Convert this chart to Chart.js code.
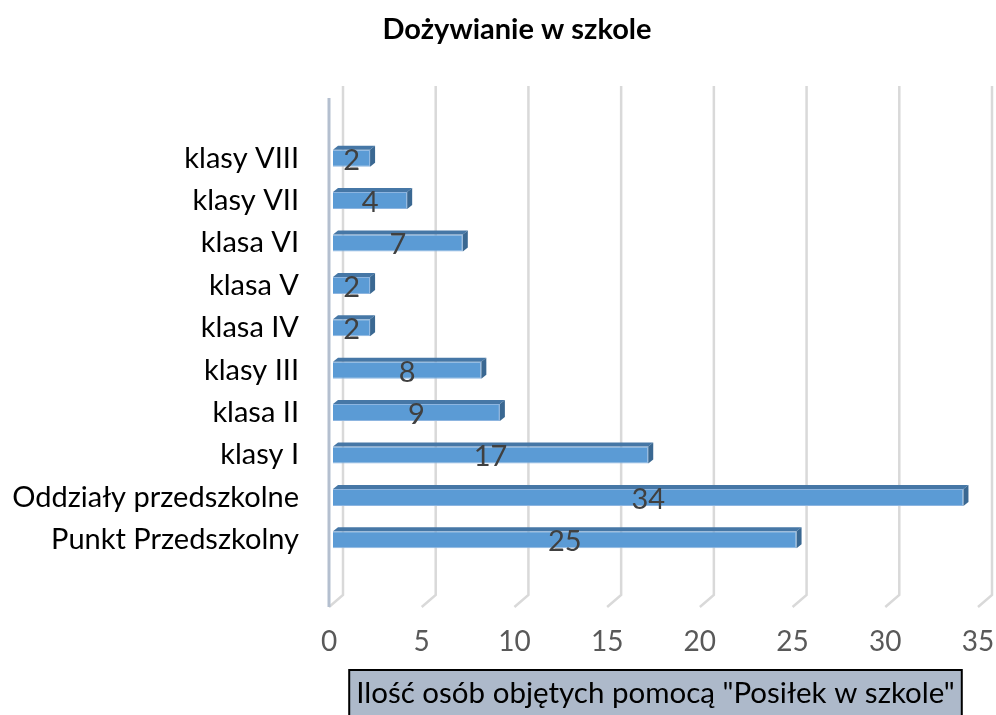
<!DOCTYPE html>
<html lang="pl">
<head>
<meta charset="utf-8">
<title>Dożywianie w szkole</title>
<script src="https://cdn.jsdelivr.net/npm/chart.js@4/dist/chart.umd.min.js"></script>
<style>
  html, body { margin: 0; padding: 0; background: #fff; }
  #wrap { width: 996px; height: 715px; overflow: hidden; }
</style>
</head>
<body>
<div id="wrap"><canvas id="chart" width="996" height="715"></canvas></div>
<script>
// dane wykresu
const categories = ['klasy VIII', 'klasy VII', 'klasa VI', 'klasa V', 'klasa IV', 'klasy III', 'klasa II', 'klasy I', 'Oddziały przedszkolne', 'Punkt Przedszkolny'];
const values = [2, 4, 7, 2, 2, 8, 9, 17, 34, 25];
const xTicks = [0, 5, 10, 15, 20, 25, 30, 35];
const chartTitle = 'Dożywianie w szkole';
const axisTitle = 'Ilość osób objętych pomocą "Posiłek w szkole"';

const FONT = 'Lato, "Open Sans", sans-serif';

// przesunięcie tylnej ściany względem przedniej krawędzi podłogi
const WALL = { backDx: 10, frontDx: -4, topAbove: 51, floorBack: 34, floorFront: 46 };
// głębokość słupka
const BAR_DX = 5, BAR_DY = 4;

// ściany i linie siatki w stylu wykresu 3D
const wallsPlugin = {
    id: 'walls',
    beforeDatasetsDraw(chart) {
        const { ctx, chartArea } = chart;
        const xs = chart.scales.x;
        const top = chartArea.top - WALL.topAbove;
        const backBottom = chartArea.bottom + WALL.floorBack;
        const frontBottom = chartArea.bottom + WALL.floorFront;

        ctx.save();
        ctx.strokeStyle = '#d9d9d9';
        ctx.lineWidth = 2.5;
        xTicks.forEach(v => {
            const px = xs.getPixelForValue(v);
            ctx.beginPath();
            ctx.moveTo(px + WALL.backDx, top);
            ctx.lineTo(px + WALL.backDx, backBottom);
            ctx.lineTo(px + WALL.frontDx, frontBottom);
            ctx.stroke();
        });

        // lewa ściana
        const x0 = xs.getPixelForValue(0) + WALL.frontDx;
        ctx.strokeStyle = '#b4bfcf';
        ctx.lineWidth = 3;
        ctx.beginPath();
        ctx.moveTo(x0, top + (WALL.floorFront - WALL.floorBack));
        ctx.lineTo(x0, frontBottom);
        ctx.stroke();
        ctx.restore();
    },
    afterDatasetsDraw(chart) {
        const { ctx } = chart;
        const meta = chart.getDatasetMeta(0);
        ctx.save();
        meta.data.forEach((bar, i) => {
            const { x, y, base, height } = bar.getProps(['x', 'y', 'base', 'height'], true);
            const t = y - height / 2;
            const b = y + height / 2;

            // górna ściana słupka
            ctx.fillStyle = '#4677a6';
            ctx.beginPath();
            ctx.moveTo(base, t);
            ctx.lineTo(x, t);
            ctx.lineTo(x + BAR_DX, t - BAR_DY);
            ctx.lineTo(base + BAR_DX, t - BAR_DY);
            ctx.closePath();
            ctx.fill();

            // boczna ściana słupka
            ctx.fillStyle = '#3a6892';
            ctx.beginPath();
            ctx.moveTo(x, t);
            ctx.lineTo(x + BAR_DX, t - BAR_DY);
            ctx.lineTo(x + BAR_DX, b - BAR_DY);
            ctx.lineTo(x, b);
            ctx.closePath();
            ctx.fill();

            // etykieta wartości
            ctx.fillStyle = '#404040';
            ctx.font = `29px ${FONT}`;
            ctx.textAlign = 'center';
            ctx.textBaseline = 'middle';
            ctx.fillText(String(values[i]), (base + x) / 2, y + 2);
        });
        ctx.restore();
    },
    afterDraw(chart) {
        const { ctx, chartArea } = chart;
        ctx.save();

        // tytuł wykresu
        ctx.fillStyle = '#000';
        ctx.textAlign = 'center';
        ctx.textBaseline = 'middle';
        ctx.font = `bold 29px ${FONT}`;
        ctx.fillText(chartTitle, 517, 30);

        // tytuł osi w ramce
        ctx.font = `29.5px ${FONT}`;
        const w = ctx.measureText(axisTitle).width + 14;
        const cx = (chartArea.left + chartArea.right) / 2 - 2;
        const top = chartArea.bottom + 109;
        ctx.fillStyle = '#adb9ca';
        ctx.fillRect(cx - w / 2, top, w, 60);
        ctx.strokeStyle = '#000';
        ctx.lineWidth = 2;
        ctx.strokeRect(cx - w / 2, top, w, 60);
        ctx.fillStyle = '#000';
        ctx.fillText(axisTitle, cx, top + 23);
        ctx.restore();
    }
};

new Chart(document.getElementById('chart'), {
    type: 'bar',
    data: {
        labels: categories,
        datasets: [{
            data: values,
            backgroundColor: '#5b9bd5',
            borderColor: '#8db5e0',
            borderWidth: 1,
            barPercentage: 0.8,
            categoryPercentage: 0.5
        }]
    },
    options: {
        indexAxis: 'y',
        responsive: false,
        animation: false,
        devicePixelRatio: 1,
        layout: { padding: { left: 0, right: 14, top: 137, bottom: 0 } },
        plugins: {
            legend: { display: false },
            tooltip: { enabled: false },
            title: { display: false }
        },
        scales: {
            x: {
                min: 0,
                max: 35,
                afterBuildTicks: s => { s.ticks = xTicks.map(v => ({ value: v })); },
                afterFit: s => {
                    s.height = 154;
                    s.paddingLeft = 0;
                    s.paddingRight = 0;
                },
                grid: { display: false },
                border: { display: false },
                ticks: {
                    color: '#595959',
                    font: { family: FONT, size: 28 },
                    padding: 56,
                    labelOffset: -4,
                    maxRotation: 0
                }
            },
            y: {
                afterFit: s => { s.width = 333; },
                grid: { display: false },
                border: { display: false },
                ticks: {
                    color: '#000',
                    font: { family: FONT, size: 29 },
                    padding: 26
                }
            }
        }
    },
    plugins: [wallsPlugin]
});
</script>
</body>
</html>
